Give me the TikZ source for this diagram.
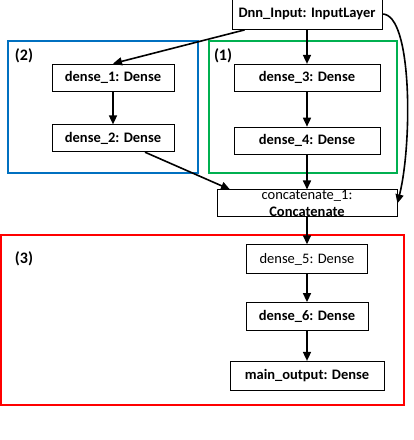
\documentclass[tikz,border=0pt]{standalone}
\usepackage{fontspec}
\setmainfont{Carlito}
\usetikzlibrary{positioning, arrows.meta}
\definecolor{groupblue}{RGB}{0,112,192}
\definecolor{groupgreen}{RGB}{0,176,80}
\definecolor{groupred}{RGB}{255,0,0}
\tikzset{
    layer/.style={draw, line width=0.8pt, fill=white, minimum height=27pt, inner sep=1pt,
        font=\fontsize{14.5}{16.5}\selectfont\bfseries}, % one keras layer
    plainlayer/.style={layer, font=\fontsize{14.5}{16.5}\selectfont}, % same, not bold
    group/.style={draw=#1, line width=2.4pt, inner sep=0pt}, % coloured frame round a branch
    grouplabel/.style={font=\fontsize{16}{18}\selectfont\bfseries, anchor=north west, inner sep=0pt},
    flow/.style={-{Triangle[length=9pt,width=8pt]}, line width=1.6pt},
    node distance=34pt,
}

\begin{document}
\begin{tikzpicture}[x=1pt, y=1pt]
    \useasboundingbox (0,0) rectangle (414,440);
    % frames
    \node[group=groupblue, minimum width=190pt, minimum height=132pt] (grp2) at (103,333) {};
    \node[group=groupgreen, minimum width=188pt, minimum height=132pt] (grp1) at (303,333) {};
    \node[group=groupred, minimum width=403pt, minimum height=170pt] (grp3) at (202.5,120) {};
    \node[grouplabel] at ([shift={(8pt,-9pt)}]grp2.north west) {(2)};
    \node[grouplabel] at ([shift={(6pt,-9pt)}]grp1.north west) {(1)};
    \node[grouplabel] at ([shift={(15pt,-18pt)}]grp3.north west) {(3)};
    % layers
    \node[layer, minimum width=150pt, minimum height=31pt] (input) at (307,426) {Dnn\_Input: InputLayer};
    \node[layer, minimum width=122pt] (dense1) at (113,362.5) {dense\_1: Dense};
    \node[layer, minimum width=122pt, below=33pt of dense1] (dense2) {dense\_2: Dense};
    \node[layer, minimum width=146pt, below=34pt of input] (dense3) {dense\_3: Dense};
    \node[layer, minimum width=146pt, below=35pt of dense3] (dense4) {dense\_4: Dense};
    \node[plainlayer, minimum width=180pt, inner ysep=0pt, align=center, below=35pt of dense4] (concat)
        {concatenate\_1:\\\textbf{Concatenate}};
    \node[plainlayer, minimum width=121pt, minimum height=29pt, below=27pt of concat] (dense5) {dense\_5: Dense};
    \node[layer, minimum width=122pt, minimum height=28pt, below=28pt of dense5] (dense6) {dense\_6: Dense};
    \node[layer, minimum width=154pt, minimum height=29pt, below=30pt of dense6] (output) {main\_output: Dense};
    % connections
    \draw[flow] ([xshift=13pt]input.south west) -- (dense1.north);
    \draw[flow] (input) -- (dense3);
    \draw[flow] (input.east) .. controls +(30,0) and +(15,60) .. (concat.east);
    \draw[flow] (dense1) -- (dense2);
    \draw[flow] (dense3) -- (dense4);
    \draw[flow] ([xshift=32pt]dense2.south) -- ([xshift=-77pt]concat.north);
    \draw[flow] (dense4) -- (concat);
    \draw[flow] (concat) -- (dense5);
    \draw[flow] (dense5) -- (dense6);
    \draw[flow] (dense6) -- (output);
\end{tikzpicture}
\end{document}
